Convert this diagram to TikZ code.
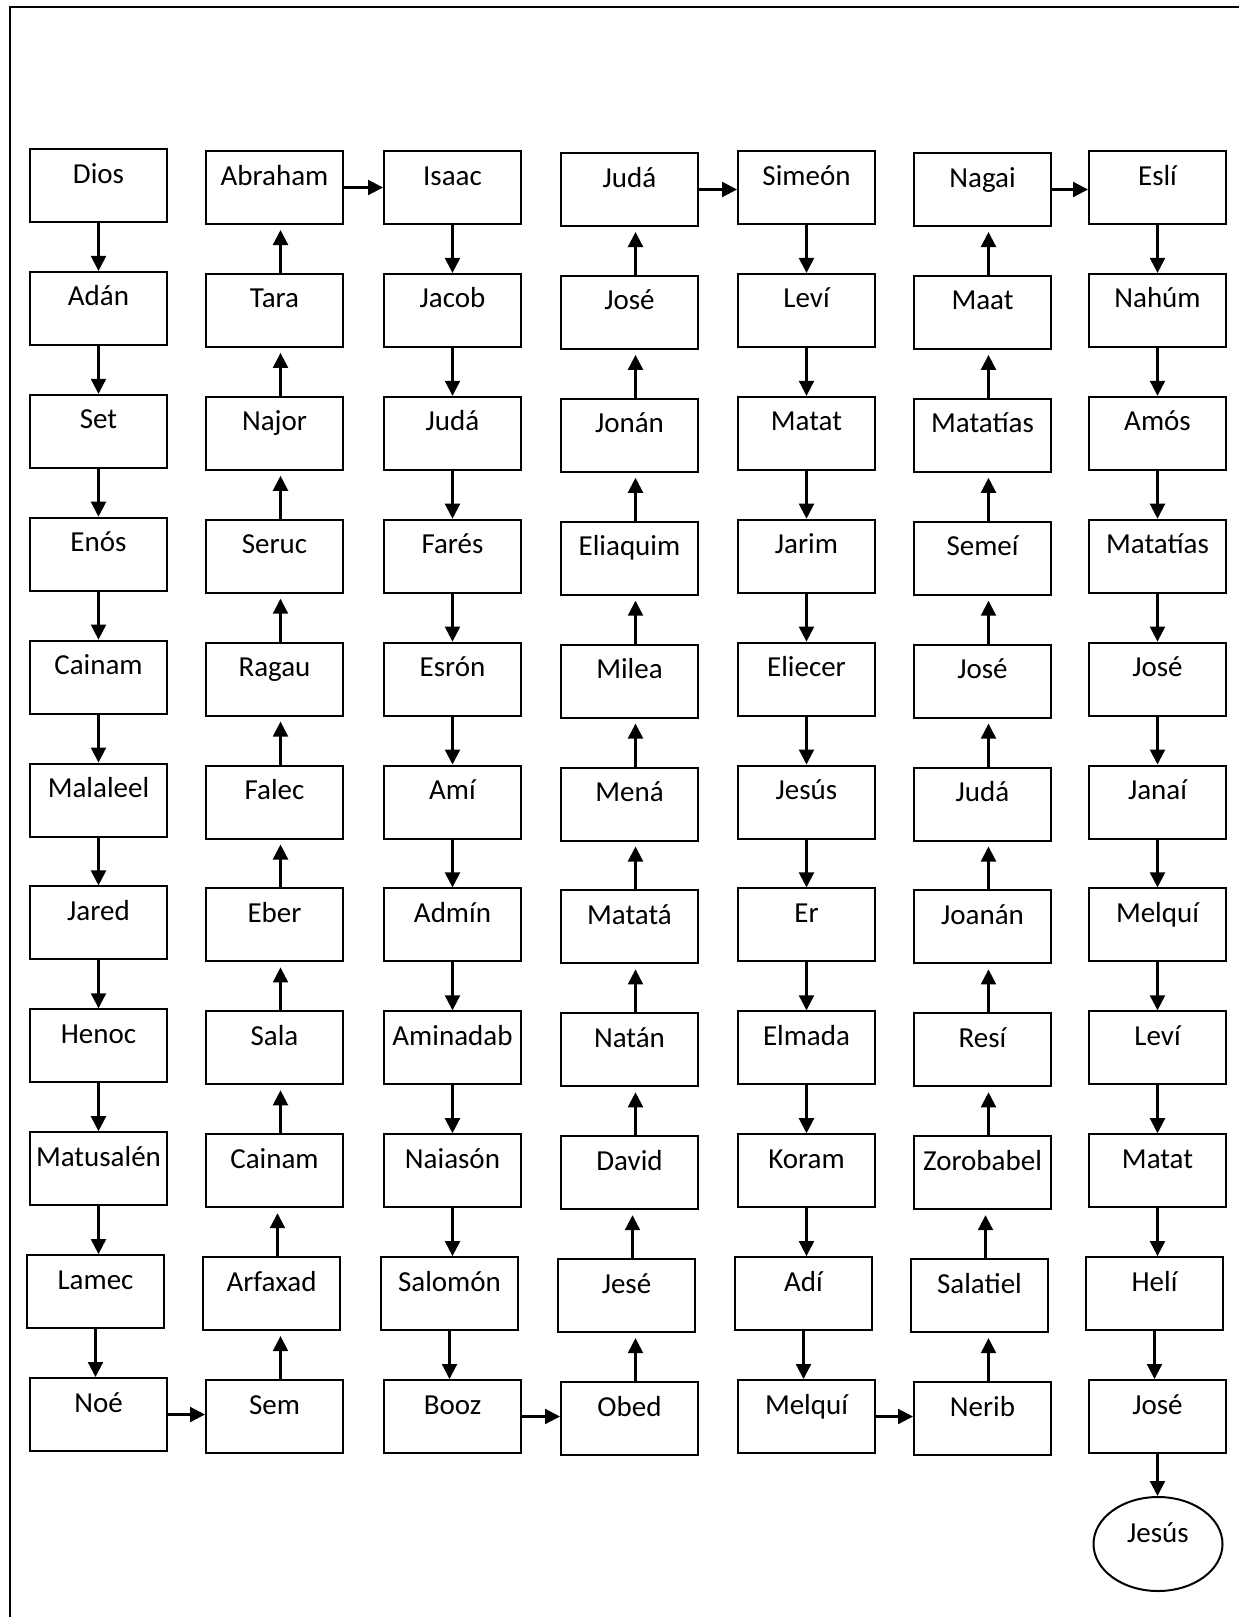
\documentclass[tikz,border=0pt]{standalone}
\usepackage{fontspec}
\setmainfont{Carlito}
\usetikzlibrary{arrows.meta,shapes.geometric}
\begin{document}
\begin{tikzpicture}[x=1pt,y=-1pt,
  box/.style={draw,line width=2pt,minimum width=137pt,inner xsep=0pt,inner ysep=0pt,
    text height=34pt,text depth=39pt,anchor=north west,font=\fontsize{29}{34}\selectfont},
  oval/.style={draw,ellipse,line width=2pt,minimum width=129pt,minimum height=94pt,inner sep=0pt,
    text height=20pt,text depth=24pt,font=\fontsize{29}{34}\selectfont},
  arr/.style={line width=2.2pt,-{Triangle[width=15pt,length=15pt]}},
  uparr/.style={arr,shorten >=5pt},
  frame/.style={line width=2pt}]
\useasboundingbox (0,0) rectangle (1239,1617);
\draw[frame] (9.5,1617) -- (9.5,6.5) -- (1239,6.5);
% column 1 (down)
\foreach \n [count=\r] in {Dios,Adán,Set,Enós,Cainam,Malaleel,Jared,Henoc,Matusalén,Lamec,Noé}
  \node[box] (c1r\r) at ({29+(\r==10)*(-3)},{148+(\r-1)*122.9}) {\n};
% column 2 (up)
\foreach \n [count=\r] in {Abraham,Tara,Najor,Seruc,Ragau,Falec,Eber,Sala,Cainam,Arfaxad,Sem}
  \node[box] (c2r\r) at ({205+(\r==10)*(-3)},{150+(\r-1)*122.9}) {\n};
% column 3 (down)
\foreach \n [count=\r] in {Isaac,Jacob,Judá,Farés,Esrón,Amí,Admín,Aminadab,Naiasón,Salomón,Booz}
  \node[box] (c3r\r) at ({383+(\r==10)*(-3)},{150+(\r-1)*122.9}) {\n};
% column 4 (up)
\foreach \n [count=\r] in {Judá,José,Jonán,Eliaquim,Milea,Mená,Matatá,Natán,David,Jesé,Obed}
  \node[box] (c4r\r) at ({560+(\r==10)*(-3)},{152+(\r-1)*122.9}) {\n};
% column 5 (down)
\foreach \n [count=\r] in {Simeón,Leví,Matat,Jarim,Eliecer,Jesús,Er,Elmada,Koram,Adí,Melquí}
  \node[box] (c5r\r) at ({737+(\r==10)*(-3)},{150+(\r-1)*122.9}) {\n};
% column 6 (up)
\foreach \n [count=\r] in {Nagai,Maat,Matatías,Semeí,José,Judá,Joanán,Resí,Zorobabel,Salatiel,Nerib}
  \node[box] (c6r\r) at ({913+(\r==10)*(-3)},{152+(\r-1)*122.9}) {\n};
% column 7 (down)
\foreach \n [count=\r] in {Eslí,Nahúm,Amós,Matatías,José,Janaí,Melquí,Leví,Matat,Helí,José}
  \node[box] (c7r\r) at ({1088+(\r==10)*(-3)},{150+(\r-1)*122.9}) {\n};
\node[oval] (jesus) at (1158,1544) {Jesús};
% vertical arrows
\foreach \r [evaluate=\r as \s using int(\r+1)] in {1,...,10} {
  \draw[arr] (c1r\r.south) -- (c1r\r.south |- c1r\s.north);
  \draw[arr] (c3r\r.south) -- (c3r\r.south |- c3r\s.north);
  \draw[arr] (c5r\r.south) -- (c5r\r.south |- c5r\s.north);
  \draw[arr] (c7r\r.south) -- (c7r\r.south |- c7r\s.north);
  \draw[uparr] ([xshift=6pt]c2r\s.north) -- ([xshift=6pt]c2r\s.north |- c2r\r.south);
  \draw[uparr] ([xshift=6pt]c4r\s.north) -- ([xshift=6pt]c4r\s.north |- c4r\r.south);
  \draw[uparr] ([xshift=6pt]c6r\s.north) -- ([xshift=6pt]c6r\s.north |- c6r\r.south);
}
\draw[arr] (c7r11.south) -- (c7r11.south |- jesus.north);
% horizontal arrows
\draw[arr] (c1r11.east) -- (c1r11.east -| c2r11.west);
\draw[arr] (c2r1.east) -- (c2r1.east -| c3r1.west);
\draw[arr] (c3r11.east) -- (c3r11.east -| c4r11.west);
\draw[arr] (c4r1.east) -- (c4r1.east -| c5r1.west);
\draw[arr] (c5r11.east) -- (c5r11.east -| c6r11.west);
\draw[arr] (c6r1.east) -- (c6r1.east -| c7r1.west);
\end{tikzpicture}
\end{document}
